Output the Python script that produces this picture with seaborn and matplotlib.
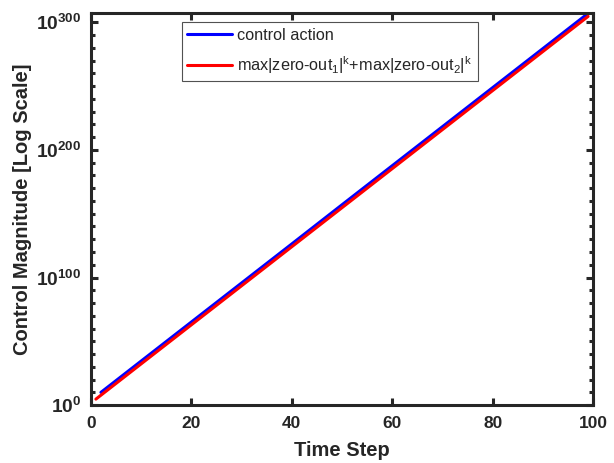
import numpy as np
import pandas as pd
import matplotlib
matplotlib.use("Agg")
import matplotlib.pyplot as plt
import matplotlib.ticker as mticker
import seaborn as sns

# Data (log10 of magnitude)
steps_blue = [2, 10, 20, 30, 40, 50, 60, 70, 80, 90, 99]
log_blue = [10.0, 34.5, 65.1, 95.7, 126.3, 157.0, 187.6, 218.2, 248.8, 279.4, 307.0]
steps_red = [1, 10, 20, 30, 40, 50, 60, 70, 80, 90, 99]
log_red = [4.7, 32.3, 62.9, 93.5, 124.1, 154.7, 185.3, 215.9, 246.5, 277.1, 304.6]
labels = ["control action", r"max|zero-out$_1$|$^k$+max|zero-out$_2$|$^k$"]
colors = ["#0000FF", "#FF0000"]

df = pd.concat([
    pd.DataFrame({"step": steps_blue, "val": 10.0 ** np.array(log_blue), "series": labels[0]}),
    pd.DataFrame({"step": steps_red, "val": 10.0 ** np.array(log_red), "series": labels[1]}),
])

sns.set_style("white")
plt.rcParams["font.family"] = ["Liberation Sans", "DejaVu Sans"]
plt.rcParams["mathtext.fontset"] = "custom"
plt.rcParams["mathtext.rm"] = "Liberation Sans"
plt.rcParams["mathtext.it"] = "Liberation Sans"
plt.rcParams["mathtext.bf"] = "Liberation Sans:bold"

fig = plt.figure(figsize=(6.14, 4.63), dpi=100)
ax = fig.add_axes([0.148, 0.125, 0.818, 0.847])
sns.lineplot(data=df, x="step", y="val", hue="series", palette=colors,
             linewidth=2.2, ax=ax, legend=True)
ax.set_yscale("log")
ax.set_xlim(0, 100)
ax.set_ylim(1, 10.0 ** 307.3)

ax.xaxis.set_major_locator(mticker.FixedLocator([0, 20, 40, 60, 80, 100]))
ax.xaxis.set_major_formatter(mticker.FuncFormatter(lambda v, p: f"{int(v)}"))
ax.yaxis.set_major_locator(mticker.FixedLocator([10.0 ** e for e in (0, 100, 200, 300)]))
ax.yaxis.set_minor_locator(mticker.FixedLocator([10.0 ** e for e in range(0, 308, 10)]))
ax.yaxis.set_major_formatter(mticker.FuncFormatter(
    lambda v, p: r"$\mathbf{10^{%d}}$" % round(np.log10(v))))
ax.yaxis.set_minor_formatter(mticker.NullFormatter())

dark = "#262626"
for s in ax.spines.values():
    s.set_linewidth(2.2)
    s.set_color(dark)
    s.set_visible(True)
ax.tick_params(which="both", direction="in", top=True, right=True, left=True, bottom=True,
               color=dark, width=2.2, labelcolor=dark)
ax.tick_params(which="major", length=5)
ax.tick_params(which="minor", length=3)
ax.tick_params(axis="x", which="major", labelsize=12.5, pad=8)
ax.tick_params(axis="y", which="major", labelsize=13.8, pad=7)
for t in ax.get_xticklabels():
    t.set_fontweight("bold")

ax.set_xlabel("Time Step", fontsize=14.5, fontweight="bold", color=dark, labelpad=7)
ax.set_ylabel("Control Magnitude [Log Scale]", fontsize=14.5, fontweight="bold", color=dark, labelpad=3)

leg = ax.legend(loc="upper left", bbox_to_anchor=(0.181, 0.977), fontsize=11.7,
                frameon=True, fancybox=False, handlelength=2.75, borderpad=0.35,
                labelspacing=0.7, handletextpad=0.3, borderaxespad=0)
leg.get_frame().set_edgecolor(dark)
leg.get_frame().set_linewidth(0.8)
for h in leg.get_lines():
    h.set_linewidth(2.2)

fig.savefig("out.png", dpi=100)
